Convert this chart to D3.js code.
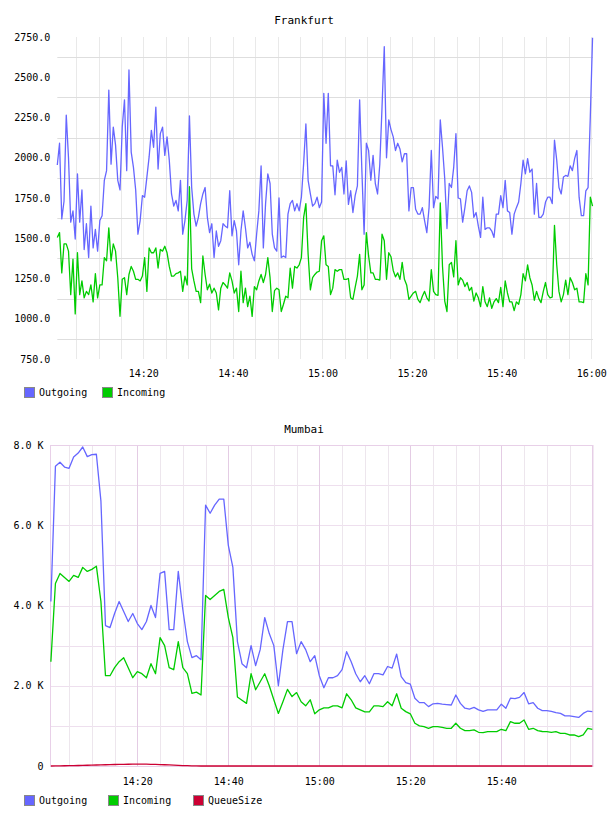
<!DOCTYPE html>
<html><head><meta charset="utf-8">
<script src="https://cdn.jsdelivr.net/npm/d3@7"></script>
<style>
body{margin:0;background:#fff}
svg{display:block}
text{font-family:"DejaVu Sans Mono",monospace;fill:#000}
</style>
</head><body>
<svg id="chart" width="608" height="816"></svg>
<script>
// ---------------- DATA ----------------
// Frankfurt: samples every 30 s starting 14:00:48
const frankfurtStart = "14:00:48";
const frankfurtStepSeconds = 30;
const frankfurtYTicks = [750, 1000, 1250, 1500, 1750, 2000, 2250, 2500, 2750];
const frankfurtXLabels = ["14:20", "14:40", "15:00", "15:20", "15:40", "16:00"];
const frankfurtOutgoing = [
1955,2090,1620,1730,2265,2000,1600,1670,1495,1900,1600,1800,1430,1590,1380,1700,1440,1555,1420,1610,
1640,1860,1920,2420,1960,2190,2080,1860,1800,2190,2360,1920,2545,2035,1940,1800,1525,1610,1765,1755,
1880,2005,2170,2065,2315,1930,2150,2190,2015,2130,1985,1775,1700,1735,1670,1860,1525,1610,1735,2260,
1815,1650,1575,1630,1715,1775,1815,1630,1535,1590,1380,1545,1450,1485,1590,1575,1565,1795,1515,1610,
1545,1335,1545,1670,1565,1440,1475,1400,1360,1525,1670,1950,1440,1715,1900,1840,1525,1440,1420,1750,
1380,1390,1380,1650,1715,1735,1670,1715,1670,1755,1965,2210,1860,1775,1700,1715,1755,1690,1725,2400,
2090,2400,1950,1950,1770,1985,1910,1940,1775,1980,1710,1795,1660,1765,1825,2360,1920,1525,2090,2045,
1860,2015,1840,1775,1960,2315,2690,2000,2235,2175,2130,2045,2090,2055,1975,2025,2025,1670,1815,1815,
1680,1650,1650,1690,1610,1535,1690,2045,1690,1760,1745,2235,2065,1870,1560,1840,1815,1940,2150,1750,
1745,1600,1690,1795,1825,1785,1630,1660,1575,1505,1755,1555,1565,1565,1545,1505,1650,1650,1765,1690,
1860,1670,1660,1525,1650,1690,1725,1840,1985,1900,1995,1910,1930,1650,1840,1630,1630,1650,1725,1755,
1755,1715,2110,1985,1815,1775,1880,1890,1885,1950,1920,1995,2045,1755,1640,1640,1795,1815,2255,2745
];
const frankfurtIncoming = [
1505,1535,1285,1465,1465,1420,1150,1370,1030,1410,1150,1235,1130,1170,1150,1210,1105,1280,1130,1210,
1210,1380,1360,1565,1360,1465,1420,1255,1015,1245,1255,1150,1275,1325,1295,1245,1245,1235,1265,1380,
1170,1440,1410,1410,1440,1315,1430,1420,1450,1410,1325,1265,1265,1280,1285,1295,1170,1265,1210,1820,
1310,1235,1170,1170,1100,1390,1275,1180,1215,1160,1190,1160,1055,1190,1225,1210,1190,1285,1235,1160,
1190,1045,1295,1100,1190,1075,1140,1015,1200,1180,1235,1275,1225,1275,1380,1255,1045,1175,1190,1180,
1045,1090,1140,1130,1315,1190,1325,1315,1335,1380,1630,1715,1400,1180,1255,1275,1290,1295,1485,1515,
1335,1325,1150,1190,1305,1295,1305,1305,1245,1245,1250,1130,1120,1195,1265,1400,1180,1210,1535,1390,
1285,1285,1245,1245,1240,1525,1485,1245,1410,1385,1300,1260,1285,1245,1350,1245,1210,1120,1140,1160,
1170,1120,1100,1140,1170,1130,1110,1305,1170,1150,1145,1720,1325,1110,1045,1335,1350,1260,1485,1210,
1255,1240,1200,1225,1175,1195,1110,1160,1130,1075,1200,1105,1075,1130,1065,1105,1125,1100,1195,1075,
1235,1160,1105,1105,1050,1105,1090,1150,1280,1235,1335,1255,1210,1115,1170,1125,1100,1170,1225,1150,
1130,1135,1580,1335,1170,1105,1150,1240,1150,1255,1225,1180,1190,1105,1105,1100,1280,1210,1755,1700
];

// Mumbai: samples every minute starting 14:01
const mumbaiStart = "14:01:00";
const mumbaiStepSeconds = 60;
const mumbaiYTicks = [0, 2000, 4000, 6000, 8000];
const mumbaiXLabels = ["14:20", "14:40", "15:00", "15:20", "15:40"];
const mumbaiOutgoing = [
4100,7470,7570,7450,7420,7700,7800,7950,7710,7760,
7770,6600,3500,3450,3800,4100,3850,3600,3800,3550,
3400,3600,4000,3700,4800,4850,3400,3400,4850,3900,
3100,2700,2750,2650,6500,6300,6500,6650,6650,5500,
4950,3100,2550,2450,3000,2500,2900,3700,3300,3000,
2000,2900,3600,3600,2800,3100,2900,2600,2750,2250,
1950,2200,2200,2250,2400,2850,2600,2300,2100,2250,
2050,2300,2300,2270,2480,2440,2790,2230,2080,2040,
1690,1580,1580,1480,1550,1560,1540,1530,1520,1770,
1560,1440,1420,1460,1400,1360,1400,1400,1400,1540,
1440,1690,1680,1710,1830,1550,1580,1440,1380,1380,
1360,1330,1310,1250,1250,1230,1210,1310,1370,1355
];
const mumbaiIncoming = [
2600,4550,4800,4700,4600,4750,4700,4950,4850,4900,
4980,4100,2250,2250,2450,2600,2700,2450,2200,2350,
2300,2200,2550,2300,3200,3000,2450,2400,3100,2450,
2300,1810,1840,1770,4250,4150,4250,4350,4400,3700,
3200,1720,1640,1560,2300,1900,2100,2300,2000,1650,
1310,1600,1910,1730,1830,1600,1500,1650,1300,1400,
1450,1450,1500,1500,1450,1800,1650,1450,1400,1350,
1350,1500,1500,1480,1600,1500,1800,1440,1355,1300,
1065,1000,980,940,980,980,960,940,940,1065,
940,880,880,900,840,830,856,856,856,915,
880,1105,1065,1065,1147,915,940,880,860,856,
840,856,815,815,773,773,731,773,940,915
];
const mumbaiQueueSize = [
0,2,4,6,8,10,13,16,19,22,
25,28,31,34,37,40,42,44,45,46,
46,45,43,40,36,31,26,21,16,11,
7,4,2,0,0,0,0,0,0,0,
0,0,0,0,0,0,0,0,0,0,
0,0,0,0,0,0,0,0,0,0,
0,0,0,0,0,0,0,0,0,0,
0,0,0,0,0,0,0,0,0,0,
0,0,0,0,0,0,0,0,0,0,
0,0,0,0,0,0,0,0,0,0,
0,0,0,0,0,0,0,0,0,0,
0,0,0,0,0,0,0,0,0,0
];

const colors = { outgoing: "#6666ff", incoming: "#00cc00", queue: "#cc0033" };

// ---------------- HELPERS ----------------
const parseHMS = d3.timeParse("%H:%M:%S");
const parseHM = d3.timeParse("%H:%M");
const fmtHM = d3.timeFormat("%H:%M");
function seriesDates(start, stepSec, n) {
  const t0 = parseHMS(start);
  return d3.range(n).map(i => d3.timeSecond.offset(t0, i * stepSec));
}
const svg = d3.select("#chart");

function drawLine(g, x, y, dates, values, color) {
  const pts = values.map((v, i) => [dates[i], v]);
  g.append("path").datum(pts)
    .attr("fill", "none").attr("stroke", color).attr("stroke-width", 1.3)
    .attr("stroke-linejoin", "round")
    .attr("d", d3.line().x(d => x(d[0])).y(d => y(d[1])));
}

function legend(items, y) {
  const g = svg.append("g");
  items.forEach(it => {
    g.append("rect").attr("x", it.x + 0.5).attr("y", y + 0.5).attr("width", 10).attr("height", 10)
      .attr("fill", it.color).attr("stroke", "#888").attr("stroke-width", 1);
    g.append("text").attr("x", it.x + 15).attr("y", y + 9).attr("font-size", 10).text(it.label);
  });
}

// ---------------- FRANKFURT ----------------
{
  const L = 57.3, R = 593, T = 37, B = 359;
  const dates = seriesDates(frankfurtStart, frankfurtStepSeconds, frankfurtOutgoing.length);
  const x = d3.scaleTime().domain([parseHMS("14:00:48"), parseHMS("16:00:24")]).range([L, R]);
  const y = d3.scaleLinear().domain([frankfurtYTicks[0], frankfurtYTicks[frankfurtYTicks.length - 1]]).range([B, T]);

  svg.append("text").attr("x", 304).attr("y", 24).attr("text-anchor", "middle").attr("font-size", 11).text("Frankfurt");

  const grid = svg.append("g");
  x.ticks(d3.timeMinute.every(5)).forEach(t => {
    grid.append("line").attr("x1", Math.round(x(t)) + 0.5).attr("x2", Math.round(x(t)) + 0.5)
      .attr("y1", T).attr("y2", B).attr("stroke", "#e9e9e9");
  });
  d3.pairs(frankfurtYTicks).forEach(([a, b]) => {
    const yy = Math.round(y((a + b) / 2)) + 0.5;
    grid.append("line").attr("x1", L).attr("x2", R).attr("y1", yy).attr("y2", yy).attr("stroke", "#dedede");
  });

  const plot = svg.append("g");
  drawLine(plot, x, y, dates, frankfurtOutgoing, colors.outgoing);
  drawLine(plot, x, y, dates, frankfurtIncoming, colors.incoming);

  const ya = svg.append("g").attr("transform", `translate(${L},0)`)
    .call(d3.axisLeft(y).tickValues(frankfurtYTicks).tickFormat(d3.format(".1f")).tickSize(0).tickPadding(7));
  ya.select(".domain").remove();
  ya.selectAll("text").attr("font-size", 10).attr("font-family", '"DejaVu Sans Mono",monospace');

  const xa = svg.append("g").attr("transform", `translate(0,${B})`)
    .call(d3.axisBottom(x).tickValues(frankfurtXLabels.map(parseHM)).tickFormat(fmtHM).tickSize(0).tickPadding(11));
  xa.select(".domain").remove();
  xa.selectAll("text").attr("font-size", 10).attr("font-family", '"DejaVu Sans Mono",monospace');

  legend([{ x: 24, color: colors.outgoing, label: "Outgoing" },
          { x: 102, color: colors.incoming, label: "Incoming" }], 387);
}

// ---------------- MUMBAI ----------------
{
  const L = 50.5, R = 593, T = 445, B = 766;
  const dates = seriesDates(mumbaiStart, mumbaiStepSeconds, mumbaiOutgoing.length);
  const x = d3.scaleTime().domain([parseHMS("14:00:55"), parseHMS("16:00:09")]).range([L, R]);
  const y = d3.scaleLinear().domain([mumbaiYTicks[0], mumbaiYTicks[mumbaiYTicks.length - 1]]).range([B, T]);

  svg.append("text").attr("x", 304).attr("y", 433).attr("text-anchor", "middle").attr("font-size", 11).text("Mumbai");

  const grid = svg.append("g");
  y.ticks(8).forEach(v => {
    const yy = Math.round(y(v)) + 0.5;
    grid.append("line").attr("x1", L).attr("x2", R).attr("y1", yy).attr("y2", yy).attr("stroke", "#eedfee");
  });
  const majors = new Set(x.ticks(d3.timeMinute.every(20)).map(d => +d));
  x.ticks(d3.timeMinute.every(5)).forEach(t => {
    const xx = Math.round(x(t)) + 0.5;
    grid.append("line").attr("x1", xx).attr("x2", xx).attr("y1", T).attr("y2", B)
      .attr("stroke", majors.has(+t) ? "#e4cce4" : "#ede6ed");
  });
  // frame
  grid.append("rect").attr("x", L).attr("y", T + 0.5).attr("width", R - L).attr("height", B - T)
    .attr("fill", "none").attr("stroke", "#e8d0e8");

  const plot = svg.append("g");
  drawLine(plot, x, y, dates, mumbaiOutgoing, colors.outgoing);
  drawLine(plot, x, y, dates, mumbaiIncoming, colors.incoming);
  drawLine(plot, x, y, dates, mumbaiQueueSize, colors.queue);

  const ya = svg.append("g").attr("transform", `translate(${L},0)`)
    .call(d3.axisLeft(y).tickValues(mumbaiYTicks)
      .tickFormat(v => v === 0 ? "0" : (v / 1000).toFixed(1) + " K").tickSize(0).tickPadding(7));
  ya.select(".domain").remove();
  ya.selectAll("text").attr("font-size", 10).attr("font-family", '"DejaVu Sans Mono",monospace');

  const xa = svg.append("g").attr("transform", `translate(0,${B})`)
    .call(d3.axisBottom(x).tickValues(mumbaiXLabels.map(parseHM)).tickFormat(fmtHM).tickSize(0).tickPadding(12));
  xa.select(".domain").remove();
  xa.selectAll("text").attr("font-size", 10).attr("font-family", '"DejaVu Sans Mono",monospace');

  legend([{ x: 24, color: colors.outgoing, label: "Outgoing" },
          { x: 108, color: colors.incoming, label: "Incoming" },
          { x: 193, color: colors.queue, label: "QueueSize" }], 795);
}
</script>
</body></html>
